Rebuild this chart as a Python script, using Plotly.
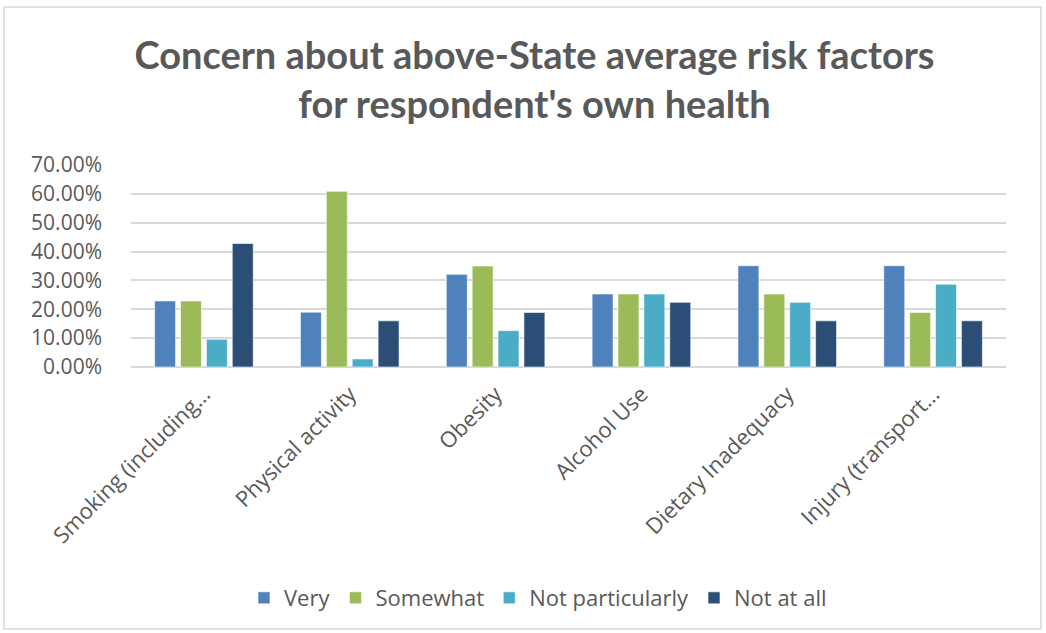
import plotly.graph_objects as go

categories = ["Smoking (including…", "Physical activity", "Obesity", "Alcohol Use",
              "Dietary Inadequacy", "Injury (transport…"]
very = [22.9, 19.0, 32.1, 25.3, 35.1, 35.1]
somewhat = [22.9, 60.9, 35.0, 25.3, 25.3, 18.9]
not_particularly = [9.6, 2.8, 12.6, 25.3, 22.4, 28.7]
not_at_all = [42.8, 16.0, 18.9, 22.4, 16.0, 16.0]
series_names = ["Very", "Somewhat", "Not particularly", "Not at all"]
colors = ["#4F81BD", "#9BBB59", "#4BACC6", "#2C4D75"]
y_ticks = [0, 10, 20, 30, 40, 50, 60, 70]
y_tick_labels = [f"{v:.2f}%" for v in y_ticks]

fig = go.Figure()
for name, vals, col in zip(series_names, [very, somewhat, not_particularly, not_at_all], colors):
    fig.add_trace(go.Bar(name=name, x=categories, y=vals, marker_color=col,
                         marker_line_color="rgba(255,255,255,0.6)", marker_line_width=1))

L, R, T, B = 131, 40, 165, 266
W, H = 1046, 633
pw = W - L - R
ph = H - T - B

body_font = "Open Sans, sans-serif"

fig.update_layout(
    width=W, height=H,
    margin=dict(l=L, r=R, t=T, b=B),
    paper_bgcolor="white", plot_bgcolor="white",
    barmode="group", bargap=0.29, bargroupgap=0.19,
    font=dict(family=body_font, color="#595959"),
    title=dict(text="<b>Concern about above-State average risk factors<br>for respondent's own health</b>",
               x=0.511, xanchor="center", y=1 - 69 / H, yanchor="middle",
               font=dict(family="Lato, sans-serif", size=38, color="#595959")),
    legend=dict(orientation="h", x=(538 - L) / pw, xanchor="center", y=-(598 - (T + ph)) / ph,
                yanchor="middle", font=dict(family=body_font, size=22, color="#595959"), itemwidth=30,
                traceorder="normal"),
    showlegend=True,
)
fig.update_yaxes(range=[0, 70], tickvals=y_ticks, ticktext=y_tick_labels,
                 showgrid=True, gridcolor="#D9D9D9", gridwidth=1.5,
                 zeroline=True, zerolinecolor="#D9D9D9", zerolinewidth=1.5,
                 showline=False, tickfont=dict(family=body_font, size=21, color="#595959"),
                 ticks="", ticklen=0, ticklabelstandoff=28, fixedrange=True)
fig.update_xaxes(tickangle=-45, tickfont=dict(family=body_font, size=22, color="#595959"),
                 showline=False, ticks="", ticklabelstandoff=9, fixedrange=True)

# outer chart border
fig.add_shape(type="rect", xref="paper", yref="paper",
              x0=(4 - L) / pw, x1=(1041 - L) / pw,
              y0=-(629 - (T + ph)) / ph, y1=1 + (T - 7) / ph,
              line=dict(color="#D9D9D9", width=1.5), fillcolor="rgba(0,0,0,0)", layer="below")

fig.write_html("out.html")
